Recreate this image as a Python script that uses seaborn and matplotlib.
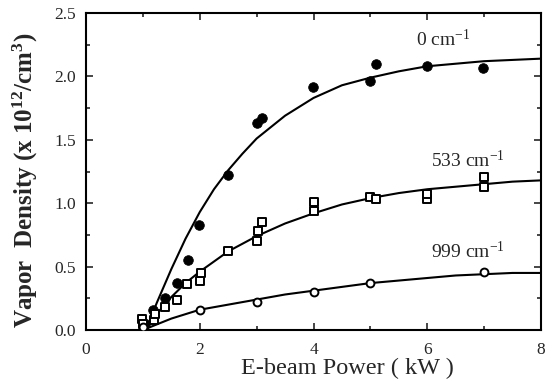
import numpy as np
import pandas as pd
import matplotlib
matplotlib.use("Agg")
import matplotlib.pyplot as plt
import seaborn as sns
from matplotlib.ticker import MultipleLocator

# ---- data ----
# 0 cm^-1 (filled circles)
p0_x = [1.0, 1.04, 1.18, 1.39, 1.6, 1.79, 1.98, 2.5, 3.0, 3.09, 3.99, 4.99, 5.1, 5.99, 6.98]
p0_y = [0.03, 0.05, 0.16, 0.25, 0.37, 0.55, 0.83, 1.22, 1.63, 1.67, 1.92, 1.96, 2.10, 2.08, 2.07]
# 533 cm^-1 (open squares)
p533_x = [0.98, 1.0, 1.2, 1.21, 1.39, 1.6, 1.78, 2.0, 2.02, 2.5, 3.0, 3.02, 3.09, 4.0, 4.0, 5.0, 5.1, 6.0, 6.0, 7.0, 7.0]
p533_y = [0.09, 0.05, 0.08, 0.13, 0.18, 0.24, 0.36, 0.39, 0.45, 0.62, 0.70, 0.78, 0.85, 0.94, 1.01, 1.05, 1.03, 1.03, 1.07, 1.13, 1.21]
# 999 cm^-1 (open circles)
p999_x = [1.0, 2.0, 3.0, 4.0, 5.0, 7.0]
p999_y = [0.02, 0.16, 0.22, 0.30, 0.37, 0.46]

# fitted curves
c0_x = [1.05, 1.25, 1.5, 1.75, 2.0, 2.25, 2.5, 2.75, 3.0, 3.5, 4.0, 4.5, 5.0, 5.5, 6.0, 6.5, 7.0, 7.5, 8.0]
c0_y = [0.0, 0.22, 0.48, 0.72, 0.93, 1.11, 1.26, 1.39, 1.51, 1.69, 1.83, 1.93, 1.99, 2.04, 2.08, 2.10, 2.12, 2.13, 2.14]
c533_x = [1.0, 1.25, 1.5, 1.75, 2.0, 2.5, 3.0, 3.5, 4.0, 4.5, 5.0, 5.5, 6.0, 6.5, 7.0, 7.5, 8.0]
c533_y = [0.0, 0.13, 0.26, 0.37, 0.46, 0.62, 0.74, 0.84, 0.92, 0.99, 1.04, 1.08, 1.11, 1.13, 1.15, 1.17, 1.18]
c999_x = [1.0, 1.5, 2.0, 2.5, 3.0, 3.5, 4.0, 4.5, 5.0, 5.5, 6.0, 6.5, 7.0, 7.5, 8.0]
c999_y = [0.0, 0.09, 0.16, 0.20, 0.24, 0.28, 0.31, 0.34, 0.37, 0.39, 0.41, 0.43, 0.44, 0.45, 0.45]

labels = ["0 cm$^{-1}$", "533 cm$^{-1}$", "999 cm$^{-1}$"]
xticks = [0, 2, 4, 6, 8]
xticklabels = ["0", "2", "4", "6", "8"]
yticks = [0, 0.5, 1.0, 1.5, 2.0, 2.5]
yticklabels = ["0.0", "0.5", "1.0", "1.5", "2.0", "2.5"]
xlabel = "E-beam Power ( kW )"
ylabel = "Vapor  Density (x 10$^{12}$/cm$^{3}$)"

sns.set_style("ticks")
plt.rcParams["font.family"] = ["Liberation Serif", "DejaVu Serif"]
plt.rcParams["mathtext.fontset"] = "custom"
plt.rcParams["mathtext.rm"] = "Liberation Serif"
plt.rcParams["mathtext.it"] = "Liberation Serif:italic"
plt.rcParams["mathtext.bf"] = "Liberation Serif:bold"
plt.rcParams["mathtext.default"] = "regular"

fig = plt.figure(figsize=(5.56, 3.84), dpi=100)
ax = fig.add_axes([86/556, 1-330/384, 455/556, 317/384])

sns.lineplot(x=c0_x, y=c0_y, ax=ax, color="black", lw=1.5, sort=False)
sns.lineplot(x=c533_x, y=c533_y, ax=ax, color="black", lw=1.5, sort=False)
sns.lineplot(x=c999_x, y=c999_y, ax=ax, color="black", lw=1.5, sort=False)

sns.scatterplot(x=p0_x, y=p0_y, ax=ax, marker="o", s=48, color="black", edgecolor="black", zorder=3)
sns.scatterplot(x=p533_x, y=p533_y, ax=ax, marker="s", s=30, facecolor="white", edgecolor="black", linewidth=1.4, zorder=3)
sns.scatterplot(x=p999_x, y=p999_y, ax=ax, marker="o", s=32, facecolor="white", edgecolor="black", linewidth=1.4, zorder=3)

ax.set_xlim(0, 8)
ax.set_ylim(0, 2.5)
ax.set_xticks(xticks)
ax.set_xticklabels(xticklabels)
ax.set_yticks(yticks)
ax.set_yticklabels(yticklabels)
ax.xaxis.set_minor_locator(MultipleLocator(1))
ax.yaxis.set_minor_locator(MultipleLocator(0.25))
ax.tick_params(which="both", direction="in", top=True, right=True, labelsize=12.5, width=1.2)
ax.tick_params(axis="x", pad=9)
ax.tick_params(axis="y", pad=7)
ax.tick_params(which="major", length=5)
ax.tick_params(which="minor", length=3)
for s in ax.spines.values():
    s.set_linewidth(1.5)
    s.set_color("black")

ax.set_xlabel(xlabel, fontsize=17.5)
ax.set_ylabel(ylabel, fontsize=18, fontweight="bold")
ax.xaxis.set_label_coords(0.574, -0.12)
ax.xaxis.label.set_va("center")
ax.yaxis.set_label_coords(-0.134, 0.472)
ax.yaxis.label.set_va("center")

ax.text(5.8, 2.29, labels[0], fontsize=14, va="center", ha="left")
ax.text(6.07, 1.34, labels[1], fontsize=14, va="center", ha="left")
ax.text(6.07, 0.62, labels[2], fontsize=14, va="center", ha="left")

fig.savefig("out.png", dpi=100)
